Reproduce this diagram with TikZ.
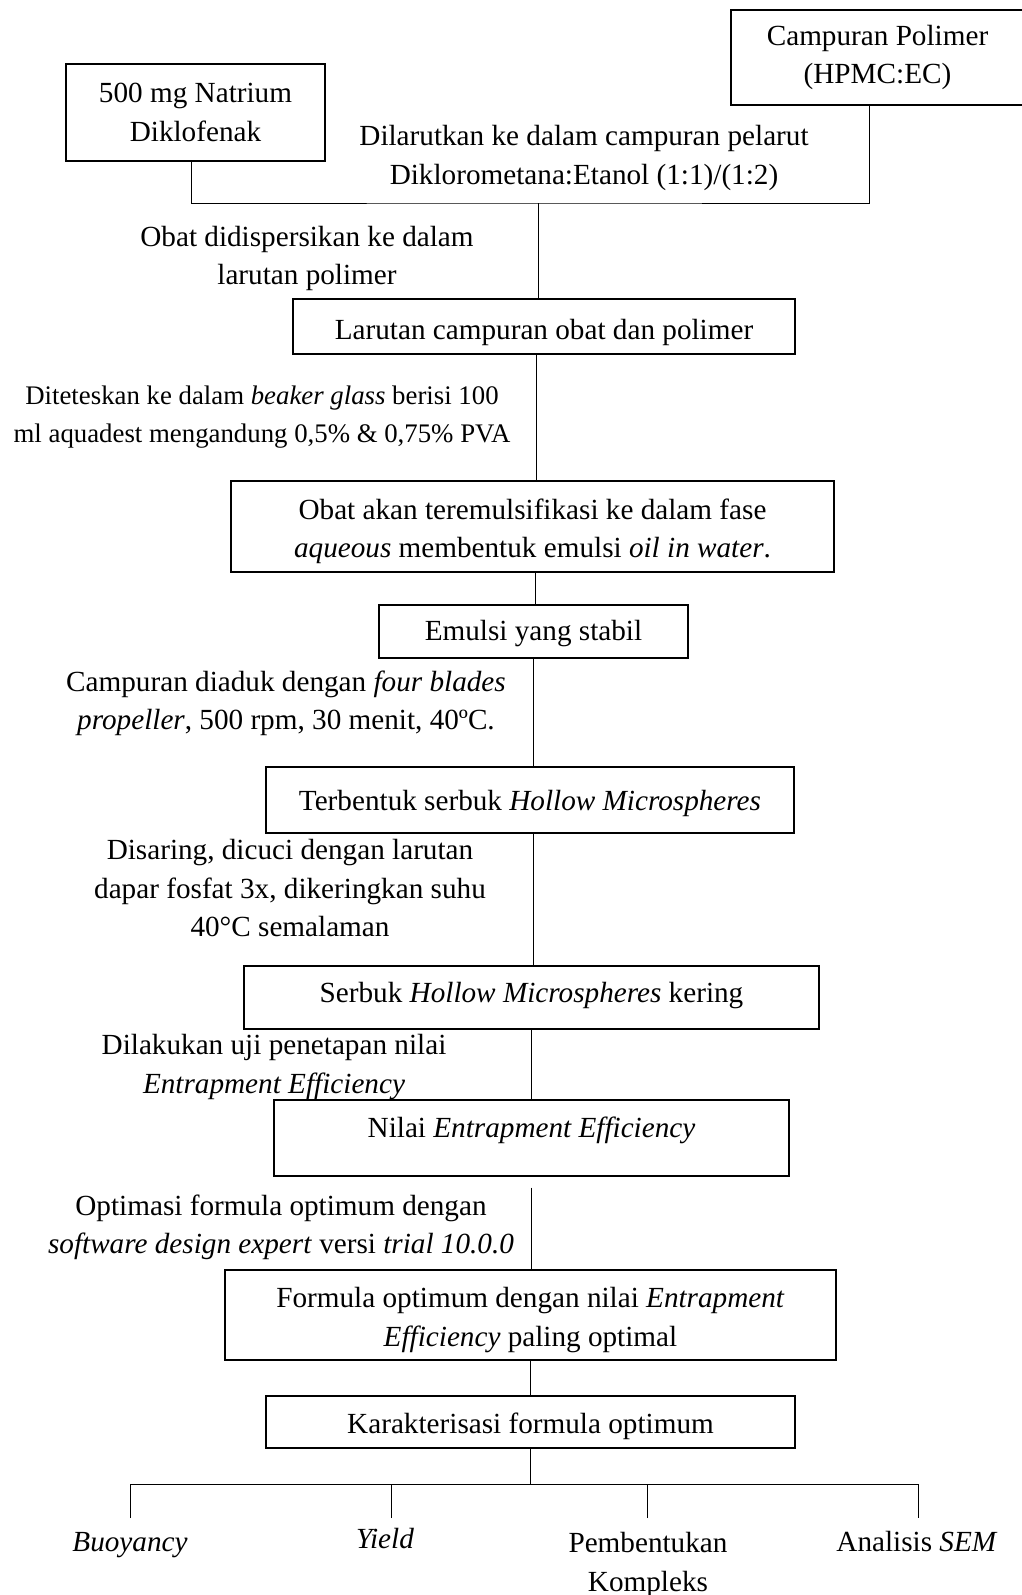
\documentclass[tikz,border=0pt]{standalone}
\usepackage{fontspec}
\setmainfont{Liberation Serif}
\newcommand\fsz{\fontsize{29.2pt}{38.5pt}\selectfont}
\newcommand\fss{\fontsize{26.8pt}{38pt}\selectfont}
\begin{document}
\begin{tikzpicture}[x=1pt,y=-1pt,
  box/.style={draw, line width=1.4pt, inner sep=0pt, align=center, font=\fsz},
  lbl/.style={align=center, inner sep=0pt, font=\fsz},
  conn/.style={line width=1pt}]
\useasboundingbox (0,0) rectangle (1022,1595);

% boxes
\node[box, minimum width=293pt, minimum height=95pt] (poli) at (877.5,57.5) {Campuran Polimer\\(HPMC:EC)};
\node[box, minimum width=259pt, minimum height=97pt] (obat) at (195.5,112.5) {500 mg Natrium\\Diklofenak};
\node[box, minimum width=502pt, minimum height=55pt, text height=31pt, text depth=6pt] (larutan) at (544,326.5) {Larutan campuran obat dan polimer};
\node[box, minimum width=603pt, minimum height=91pt] (emulsify) at (532.5,526.5) {\rule{0pt}{30pt}Obat akan teremulsifikasi ke dalam fase\\\textit{aqueous} membentuk emulsi \textit{oil in water}.};
\node[box, minimum width=309pt, minimum height=53pt, text height=24pt, text depth=6pt] (emulsi) at (533.5,631.5) {Emulsi yang stabil};
\node[box, minimum width=528pt, minimum height=66pt, text height=27pt, text depth=6pt] (terbentuk) at (530,800) {Terbentuk serbuk \textit{Hollow Microspheres}};
\node[box, minimum width=575pt, minimum height=63pt, text height=16pt, text depth=6pt] (serbuk) at (531.5,997.5) {Serbuk \textit{Hollow Microspheres} kering};
\node[box, minimum width=515pt, minimum height=76pt, text height=20pt, text depth=21pt] (nilai) at (531.5,1138) {Nilai \textit{Entrapment Efficiency}};
\node[box, minimum width=611pt, minimum height=90pt] (formula) at (530.5,1315) {\rule{0pt}{30pt}Formula optimum dengan nilai \textit{Entrapment}\\\textit{Efficiency} paling optimal};
\node[box, minimum width=529pt, minimum height=52pt, text height=29pt, text depth=6pt] (karakter) at (530.5,1422) {Karakterisasi formula optimum};

% step labels
\node[lbl] (t1) at (584,158) {Dilarutkan ke dalam campuran pelarut\\Diklorometana:Etanol (1:1)/(1:2)};
\node[lbl] (t2) at (307,258.5) {Obat didispersikan ke dalam\\larutan polimer};
\node[lbl, font=\fss] (t3) at (262,417) {Diteteskan ke dalam \textit{beaker glass} berisi 100\\ml aquadest mengandung 0,5\% \& 0,75\% PVA};
\node[lbl] (t4) at (286,703.5) {Campuran diaduk dengan \textit{four blades}\\\textit{propeller}, 500 rpm, 30 menit, 40ºC.};
\node[lbl] (t5) at (290,888.5) {Disaring, dicuci dengan larutan\\dapar fosfat 3x, dikeringkan suhu\\40°C semalaman};
\node[lbl] (t6) at (274,1067) {Dilakukan uji penetapan nilai\\\textit{Entrapment Efficiency}};
\node[lbl] (t7) at (281,1227.5) {Optimasi formula optimum dengan\\\textit{software design expert} versi \textit{trial 10.0.0}};

% bottom outcomes
\node[lbl, text height=20pt, text depth=6pt] (buoy) at (130,1544) {\textit{Buoyancy}};
\node[lbl, text height=20pt, text depth=6pt] (yield) at (385,1541) {\textit{Yield}};
\node[lbl] (komp) at (648,1565) {Pembentukan\\Kompleks};
\node[lbl, text height=20pt, text depth=6pt] (sem) at (917,1544) {Analisis \textit{SEM}};

% connectors
\coordinate (jt) at (538,203);
\draw[conn] ([xshift=-4.5pt]obat.south) |- (jt) -| ([xshift=-8.5pt]poli.south);
\draw[conn] (jt) -- (jt |- larutan.north);
\draw[conn] ([xshift=-8pt]larutan.south) -- ([xshift=-8pt]larutan.south |- emulsify.north);
\draw[conn] ([xshift=2.5pt]emulsify.south) -- ([xshift=2.5pt]emulsify.south |- emulsi.north);
\draw[conn] (emulsi.south) -- (emulsi.south |- terbentuk.north);
\draw[conn] ([xshift=3pt]terbentuk.south) -- ([xshift=3pt]terbentuk.south |- serbuk.north);
\draw[conn] (serbuk.south) -- (serbuk.south |- nilai.north);
\draw[conn] ([yshift=-11pt]nilai.south) -- (nilai.south |- formula.north);
\draw[conn] (formula.south) -- (formula.south |- karakter.north);

\coordinate (jb) at (530.5,1484);
\coordinate (b1) at (130,1518);
\coordinate (b2) at (391,1518);
\coordinate (b3) at (647,1518);
\coordinate (b4) at (918,1518);
\draw[conn] (karakter.south) -- (jb);
\draw[conn] (b1) |- (jb) -| (b4);
\draw[conn] (b2) -- (b2 |- jb);
\draw[conn] (b3) -- (b3 |- jb);
\end{tikzpicture}
\end{document}
